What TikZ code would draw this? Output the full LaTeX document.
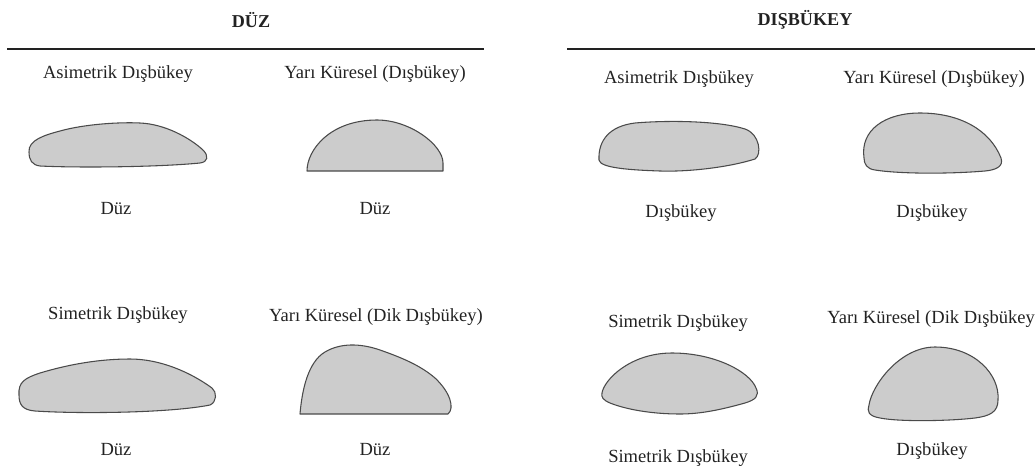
\documentclass[tikz,border=0pt]{standalone}
\usepackage{fontspec}
\setmainfont{Liberation Serif}
\definecolor{inkc}{HTML}{222222}
\definecolor{lensfill}{HTML}{CCCCCC}
\definecolor{lensline}{HTML}{4A4A4A}
\begin{document}
\begin{tikzpicture}[x=0.75pt,y=-0.75pt,
  lbl/.style={text=inkc,font=\fontsize{13.9}{16}\selectfont,inner sep=0pt},
  ttl/.style={text=inkc,font=\fontsize{13.6}{16}\selectfont\bfseries,inner sep=0pt},
  rule/.style={draw=inkc,line width=1.1pt},
  lens/.style={fill=lensfill,draw=lensline,line width=0.8pt,line join=round}]
\useasboundingbox (0,0) rectangle (1035,468);

% column headings and rules
\node[ttl] (tflat) at (251,20) {DÜZ};
\node[ttl] (tconv) at (805,20) {DIŞBÜKEY};
\draw[rule] (7,49) -- (484,49);
\draw[rule] (567,49) -- (1035,49);

% ---- flat base: upper row
\node[lbl] (a1) at (118,74) {Asimetrik Dışbükey};
\node[lbl] (a2) at (375,74) {Yarı Küresel (Dışbükey)};
\draw[lens] (29,152) .. controls (28,140) and (45,135) .. (60,131)
  .. controls (85,124) and (120,122) .. (140,123)
  .. controls (165,124) and (190,138) .. (203,150)
  .. controls (209,156) and (208,162) .. (200,163)
  .. controls (160,167) and (80,168) .. (40,166)
  .. controls (32,165) and (29,160) .. (29,152) -- cycle;
\draw[lens] (307,171) .. controls (307,150) and (330,120) .. (377,120)
  .. controls (410,120) and (443,145) .. (443,163) -- (443,171) -- cycle;
\node[lbl] (b1) at (116,209) {Düz};
\node[lbl] (b2) at (375,209) {Düz};

% ---- flat base: lower row
\node[lbl] (c1) at (118,315) {Simetrik Dışbükey};
\node[lbl] (c2) at (376,317) {Yarı Küresel (Dik Dışbükey)};
\draw[lens] (19,395) .. controls (18,382) and (25,378) .. (40,373)
  .. controls (70,364) and (100,359) .. (130,359)
  .. controls (160,359) and (190,372) .. (212,388)
  .. controls (217,392) and (217,402) .. (210,405)
  .. controls (170,413) and (80,414) .. (35,411)
  .. controls (22,410) and (19,404) .. (19,395) -- cycle;
\draw[lens] (300,414) .. controls (302,390) and (308,362) .. (325,352)
  .. controls (340,343) and (360,343) .. (380,350)
  .. controls (400,357) and (420,365) .. (435,378)
  .. controls (450,392) and (455,408) .. (448,414) -- cycle;
\node[lbl] (d1) at (116,450) {Düz};
\node[lbl] (d2) at (375,450) {Düz};

% ---- convex base: upper row
\node[lbl] (e1) at (679,79) {Asimetrik Dışbükey};
\node[lbl] (e2) at (934,79) {Yarı Küresel (Dışbükey)};
\draw[lens] (599,160) .. controls (598,140) and (610,126) .. (635,123)
  .. controls (670,120) and (720,121) .. (745,129)
  .. controls (760,134) and (762,155) .. (755,159)
  .. controls (730,167) and (690,172) .. (660,171)
  .. controls (630,170) and (600,168) .. (599,160) -- cycle;
\draw[lens] (864,158) .. controls (860,130) and (885,113) .. (920,113)
  .. controls (960,113) and (990,130) .. (1001,158)
  .. controls (1004,167) and (995,170) .. (985,171)
  .. controls (950,174) and (900,174) .. (875,170)
  .. controls (867,169) and (864,164) .. (864,158) -- cycle;
\node[lbl] (f1) at (681,213) {Dışbükey};
\node[lbl] (f2) at (932,213) {Dışbükey};

% ---- convex base: lower row
\node[lbl] (g1) at (678,323) {Simetrik Dışbükey};
\node[lbl,anchor=west] (g2) at (827,319) {Yarı Küresel (Dik Dışbükey};
\draw[lens] (602,393) .. controls (604,380) and (630,353) .. (672,353)
  .. controls (715,353) and (750,372) .. (756,388)
  .. controls (760,396) and (755,400) .. (745,403)
  .. controls (720,410) and (700,414) .. (680,414)
  .. controls (650,414) and (625,409) .. (610,403)
  .. controls (603,400) and (601,397) .. (602,393) -- cycle;
\draw[lens] (869,405) .. controls (872,385) and (900,347) .. (935,347)
  .. controls (975,347) and (1000,375) .. (998,400)
  .. controls (998,412) and (990,416) .. (975,418)
  .. controls (950,421) and (900,422) .. (880,418)
  .. controls (868,416) and (867,411) .. (869,405) -- cycle;
\node[lbl] (h1) at (678,458) {Simetrik Dışbükey};
\node[lbl] (h2) at (932,451) {Dışbükey};
\end{tikzpicture}
\end{document}
